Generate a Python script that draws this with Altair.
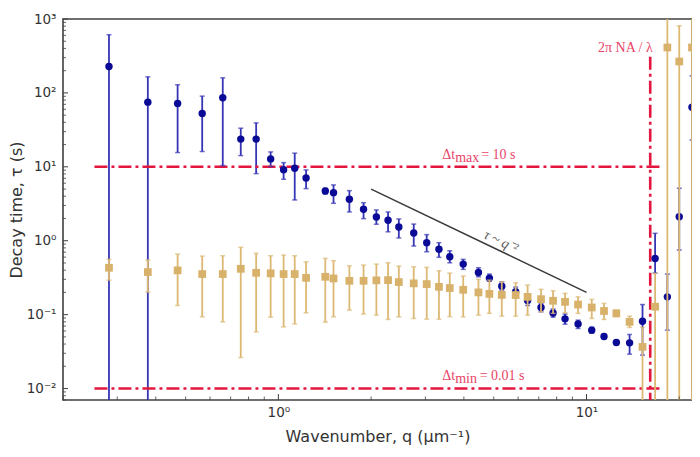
import altair as alt
import pandas as pd

# ---------------- data ----------------
q = [0.282, 0.377, 0.471, 0.566, 0.66, 0.755, 0.847, 0.944, 1.04, 1.13, 1.23, 1.42, 1.51, 1.7,
     1.89, 2.08, 2.27, 2.46, 2.75, 3.03, 3.32, 3.6, 3.98, 4.46, 4.84, 5.31, 5.89, 6.44, 7.12,
     7.79, 8.52, 9.39, 10.4, 11.4, 12.5, 13.8, 15.2, 16.7, 18.3, 20.0, 22.0]

blue_tau = [228, 75, 71.8, 52.6, 85.8, 23.7, 23.7, 12.8, 9.16, 9.57, 7.07, 4.71, 4.47, 3.64, 2.66,
            2.09, 1.89, 1.53, 1.27, 0.94, 0.765, 0.607, 0.483, 0.373, 0.312, 0.243, 0.204, 0.155,
            0.125, 0.105, 0.0877, 0.075, 0.0617, 0.0507, 0.042, 0.0415, 0.0816, 0.574, 0.174,
            2.11, 64.2]
blue_hi = [613, 165, 129, 90.5, 160, 33.3, 39.3, 15.9, 11.4, 15.3, 9.08, 5.13, 5.69, 4.76, 3.27,
           2.61, 2.45, 1.97, 1.68, 1.21, 0.94, 0.732, 0.56, 0.431, 0.354, 0.278, 0.236, 0.178,
           0.142, 0.119, 0.102, 0.0842, 0.0677, 0.0544, 0.0451, 0.0539, 0.137, 1.26, 0.354,
           5.13, 170]
blue_lo = [1e-6, 1e-6, 15.6, 16.1, 10.4, 14.2, 8.09, 10.1, 6.79, 3.56, 5.07, 4.29, 3.21, 2.45,
           1.99, 1.67, 1.32, 1.09, 0.848, 0.709, 0.596, 0.503, 0.41, 0.325, 0.284, 0.215, 0.178,
           0.133, 0.109, 0.0925, 0.0743, 0.065, 0.0561, 0.0473, 0.0392, 0.0292, 0.0283, 0.365,
           0.0617, 0.748, 23.1]

tan_tau = [0.431, 0.377, 0.397, 0.354, 0.354, 0.417, 0.368, 0.362, 0.354, 0.354, 0.315, 0.325,
           0.309, 0.287, 0.287, 0.291, 0.293, 0.276, 0.265, 0.259, 0.238, 0.229, 0.217, 0.2,
           0.191, 0.185, 0.184, 0.174, 0.162, 0.154, 0.149, 0.137, 0.125, 0.112, 0.104, 0.0799,
           0.0366, 0.128, 412, 266, 412]
tan_hi = [0.56, 0.548, 0.66, 0.62, 0.626, 0.814, 0.675, 0.626, 0.64, 0.626, 0.519, 0.577, 0.536,
          0.458, 0.469, 0.483, 0.503, 0.454, 0.444, 0.436, 0.392, 0.365, 0.332, 0.3, 0.293, 0.278,
          0.27, 0.251, 0.22, 0.21, 0.194, 0.174, 0.161, 0.142, 0.115, 0.0954, 0.0671, 0.362,
          1e6, 811, 1e6]
tan_lo = [0.293, 0.202, 0.133, 0.0934, 0.0799, 0.0263, 0.0585, 0.0925, 0.0683, 0.075, 0.106,
          0.0791, 0.0934, 0.115, 0.102, 0.0985, 0.0861, 0.0934, 0.0888, 0.0869, 0.0869, 0.094,
          0.0934, 0.0985, 0.104, 0.0954, 0.0954, 0.0985, 0.109, 0.104, 0.106, 0.104, 0.0888,
          0.0861, 0.094, 0.0671, 1e-6, 1e-6, 1e-6, 1e-6, 1e-6]

# reference lines / annotations
dt_levels = [10, 0.01]
dt_q_range = [0.253, 17.4]
q_cutoff = 16.1
q_cutoff_top = 308
slope_q = [2.0, 10.0]
slope_tau = [5.0, 0.2]

y_major = [0.01, 0.1, 1, 10, 100, 1000]
y_minor = [m * 10 ** e for e in range(-3, 3) for m in range(2, 10)]
y_minor = [v for v in y_minor if 0.007 <= v <= 1000]
x_major = [1, 10]
x_minor = [0.2, 0.3, 0.4, 0.5, 0.6, 0.7, 0.8, 0.9, 2, 3, 4, 5, 6, 7, 8, 9, 20]

# ---------------- styling ----------------
W, H = 629, 381
BLUE = "#0a0a96"
BLUE_ERR = "#3535b5"
TAN = "#d8b26b"
TAN_ERR = "#dcb873"
RED = "#e3173e"
RED_TXT = "#e84467"
FRAME = "#404040"
SERIF = "Liberation Serif"

xs = alt.Scale(type="log", domain=[0.2, 22.0], nice=False)
ys = alt.Scale(type="log", domain=[0.007, 1000], nice=False)

df = pd.DataFrame({"q": q, "bt": blue_tau, "bh": blue_hi, "bl": blue_lo,
                   "tt": tan_tau, "th": tan_hi, "tl": tan_lo})

X = alt.X("q:Q", scale=xs, title="Wavenumber, q (μm⁻¹)",
          axis=alt.Axis(values=x_major,
                        labelExpr="datum.value == 1 ? '10⁰' : '10¹'"))
Y_AX = alt.Axis(values=y_major,
                labelExpr="{'0.01':'10⁻²','0.1':'10⁻¹','1':'10⁰','10':'10¹','100':'10²','1000':'10³'}[''+datum.value]")

base = alt.Chart(df)

# red dash-dot lines
hl = alt.Chart(pd.DataFrame({"tau": dt_levels, "q1": dt_q_range[0], "q2": dt_q_range[1]})).mark_rule(
    color=RED, strokeWidth=2.6, strokeDash=[13, 4, 3, 4]).encode(
    x=alt.X("q1:Q", scale=xs), x2="q2:Q",
    y=alt.Y("tau:Q", scale=ys))
vl = alt.Chart(pd.DataFrame({"q": [q_cutoff], "t1": [q_cutoff_top], "t2": [1e-6]})).mark_rule(
    color=RED, strokeWidth=2.6, strokeDash=[13, 4, 3, 4], clip=True).encode(
    x=alt.X("q:Q", scale=xs), y=alt.Y("t1:Q", scale=ys), y2="t2:Q")

slope = alt.Chart(pd.DataFrame({"q": slope_q, "tau": slope_tau})).mark_line(
    color="#3a3a3a", strokeWidth=1.5).encode(
    x=alt.X("q:Q", scale=xs), y=alt.Y("tau:Q", scale=ys))

# blue series
b_err = base.mark_rule(color=BLUE_ERR, strokeWidth=1.8, clip=True).encode(
    x=X, y=alt.Y("bl:Q", scale=ys, title="Decay time, τ (s)", axis=Y_AX), y2="bh:Q")
b_cap_hi = base.mark_tick(color=BLUE_ERR, orient="horizontal", size=5, thickness=1.5, clip=True).encode(
    x=alt.X("q:Q", scale=xs), y=alt.Y("bh:Q", scale=ys))
b_cap_lo = base.mark_tick(color=BLUE_ERR, orient="horizontal", size=5, thickness=1.5, clip=True).encode(
    x=alt.X("q:Q", scale=xs), y=alt.Y("bl:Q", scale=ys))
b_pt = base.mark_point(shape="circle", filled=True, size=55, opacity=1, color=BLUE, clip=True).encode(
    x=alt.X("q:Q", scale=xs), y=alt.Y("bt:Q", scale=ys))

# tan series
t_err = base.mark_rule(color=TAN_ERR, strokeWidth=1.8, clip=True).encode(
    x=alt.X("q:Q", scale=xs), y=alt.Y("tl:Q", scale=ys), y2="th:Q")
t_cap_hi = base.mark_tick(color=TAN_ERR, orient="horizontal", size=5, thickness=1.5, clip=True).encode(
    x=alt.X("q:Q", scale=xs), y=alt.Y("th:Q", scale=ys))
t_cap_lo = base.mark_tick(color=TAN_ERR, orient="horizontal", size=5, thickness=1.5, clip=True).encode(
    x=alt.X("q:Q", scale=xs), y=alt.Y("tl:Q", scale=ys))
t_pt = base.mark_point(shape="square", filled=True, size=60, opacity=1, color=TAN, clip=True).encode(
    x=alt.X("q:Q", scale=xs), y=alt.Y("tt:Q", scale=ys))

# annotations
def txt(label, qv, tv, dx=0, dy=0, align="left", color=RED_TXT, size=14, angle=0,
        baseline="alphabetic", style="normal"):
    return alt.Chart(pd.DataFrame({"q": [qv], "t": [tv], "s": [label]})).mark_text(
        font=SERIF, fontSize=size, color=color, align=align, baseline=baseline,
        dx=dx, dy=dy, angle=angle, fontStyle=style).encode(
        x=alt.X("q:Q", scale=xs), y=alt.Y("t:Q", scale=ys), text="s:N")

ann = [
    txt("Δt", 3.4, 12.8), txt("max", 3.4, 12.8, dx=13, dy=3), txt("= 10 s", 3.4, 12.8, dx=39),
    txt("Δt", 3.4, 0.013), txt("min", 3.4, 0.013, dx=13, dy=3), txt("= 0.01 s", 3.4, 0.013, dx=37.5),
    txt("2π NA / λ", 16.4, 361, align="right"),
    txt("τ ~ q⁻²", 5.27, 0.969, align="center", baseline="middle", angle=25.4,
        color="#555555", size=14, style="italic"),
]

# inward ticks
ytm = alt.Chart(pd.DataFrame({"v": y_major})).mark_rule(color=FRAME, strokeWidth=1).encode(
    y=alt.Y("v:Q", scale=ys), x=alt.value(0), x2=alt.value(5))
ytn = alt.Chart(pd.DataFrame({"v": y_minor})).mark_rule(color=FRAME, strokeWidth=0.8).encode(
    y=alt.Y("v:Q", scale=ys), x=alt.value(0), x2=alt.value(3))
xtm = alt.Chart(pd.DataFrame({"v": x_major})).mark_rule(color=FRAME, strokeWidth=1).encode(
    x=alt.X("v:Q", scale=xs), y=alt.value(H), y2=alt.value(H - 6))
xtn = alt.Chart(pd.DataFrame({"v": x_minor})).mark_rule(color=FRAME, strokeWidth=0.8).encode(
    x=alt.X("v:Q", scale=xs), y=alt.value(H), y2=alt.value(H - 3.5))

chart = alt.layer(
    b_err, hl, vl, slope, b_cap_hi, b_cap_lo, b_pt,
    t_err, t_cap_hi, t_cap_lo, t_pt,
    *ann, ytm, ytn, xtm, xtn
).properties(
    width=W, height=H,
    autosize=alt.AutoSizeParams(type="none"),
    padding={"left": 55, "top": 11, "right": 0, "bottom": 45},
).configure_view(
    stroke=FRAME, strokeWidth=1.6
).configure_axis(
    grid=False, ticks=False, domain=False,
    labelFont="DejaVu Sans", labelFontSize=13.5, labelColor="#333333",
    titleFont="DejaVu Sans", titleFontSize=16, titleColor="#333333", titleFontWeight="normal",
).configure_axisX(
    labelPadding=5, titleY=36, titleBaseline="middle"
).configure_axisY(
    labelPadding=7, titleX=-47, titleBaseline="middle"
)

chart.save("out.html", embed_options={"renderer": "svg", "actions": False})
